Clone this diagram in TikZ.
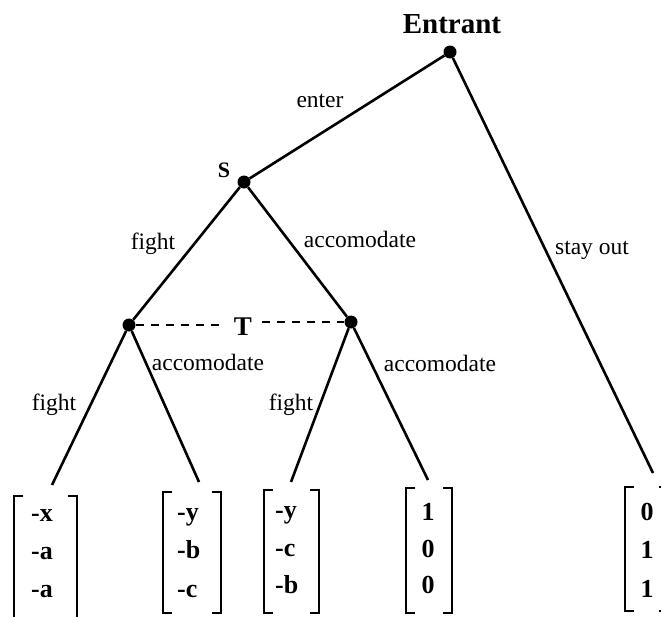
\documentclass[tikz,border=0pt]{standalone}
\usepackage{fontspec}
\setmainfont{Liberation Serif}
\begin{document}
\begin{tikzpicture}[x=1pt,y=-1pt,
  dot/.style={circle,fill=black,inner sep=0pt,minimum size=13pt},
  edge/.style={line width=2.6pt},
  dashline/.style={line width=2.2pt,dash pattern=on 8pt off 7pt},
  brk/.style={line width=2.2pt},
  lab/.style={font=\fontsize{23.5}{26}\selectfont,inner sep=0pt,anchor=base},
  blab/.style={font=\fontsize{22}{24}\selectfont\bfseries,inner sep=0pt,anchor=base},
  val/.style={font=\fontsize{26}{30}\selectfont\bfseries,inner sep=0pt,anchor=base west},
  valc/.style={font=\fontsize{26}{30}\selectfont\bfseries,inner sep=0pt,anchor=base}]
\useasboundingbox (0,0) rectangle (661,616);
% decision nodes
\node[dot] (E) at (450,52) {};
\node[dot] (S) at (244,182) {};
\node[dot] (TL) at (129,325) {};
\node[dot] (TR) at (351,322) {};
% leaf ends
\coordinate (L1) at (52,485);
\coordinate (L2) at (199,482);
\coordinate (L3) at (291,482);
\coordinate (L4) at (428,480);
\coordinate (L5) at (653,473);
% edges
\draw[edge] (E) -- (S);
\draw[edge] (E) -- (L5);
\draw[edge] (S) -- (TL);
\draw[edge] (S) -- (TR);
\draw[edge] (TL) -- (L1);
\draw[edge] (TL) -- (L2);
\draw[edge] (TR) -- (L3);
\draw[edge] (TR) -- (L4);
% information set
\node[blab,font=\fontsize{27}{30}\selectfont\bfseries,inner xsep=10pt] (Tlab) at (243,335) {T};
\draw[dashline] (TL) -- (Tlab.west |- TL);
\draw[dashline] (Tlab.east |- TR) -- (TR);
% player labels
\node[blab,font=\fontsize{29}{32}\selectfont\bfseries] (Elab) at (452,33) {Entrant};
\node[blab] (Slab) at (224,177) {S};
% action labels
\node[lab] (enter) at (320,107) {enter};
\node[lab] (stay) at (592,254) {stay out};
\node[lab] (f1) at (153,249) {fight};
\node[lab] (a1) at (360,247) {accomodate};
\node[lab] (a2) at (208,370) {accomodate};
\node[lab] (a3) at (440,371) {accomodate};
\node[lab] (f2) at (54,410) {fight};
\node[lab] (f3) at (291,410) {fight};
% payoff vectors
\node[val] (v11) at (31,521) {-x};
\node[val] (v12) at (31,559) {-a};
\node[val] (v13) at (31,597) {-a};
\node[val] (v21) at (177,520) {-y};
\node[val] (v22) at (177,558) {-b};
\node[val] (v23) at (177,597) {-c};
\node[val] (v31) at (275,518) {-y};
\node[val] (v32) at (275,556) {-c};
\node[val] (v33) at (275,593) {-b};
\node[valc] (v41) at (428,520) {1};
\node[valc] (v42) at (428,557) {0};
\node[valc] (v43) at (428,593) {0};
\node[valc] (v51) at (647,520) {0};
\node[valc] (v52) at (647,558) {1};
\node[valc] (v53) at (647,597) {1};
% brackets
\draw[brk] (23,496) -- (14,496) -- (14,625) -- (23,625);
\draw[brk] (68,496) -- (77,496) -- (77,625) -- (68,625);
\draw[brk] (172,492) -- (163,492) -- (163,613) -- (172,613);
\draw[brk] (212,492) -- (221,492) -- (221,613) -- (212,613);
\draw[brk] (273,490) -- (264,490) -- (264,613) -- (273,613);
\draw[brk] (310,490) -- (319,490) -- (319,613) -- (310,613);
\draw[brk] (415,488) -- (406,488) -- (406,613) -- (415,613);
\draw[brk] (443,488) -- (452,488) -- (452,613) -- (443,613);
\draw[brk] (634,487) -- (625,487) -- (625,611) -- (634,611);
\draw[brk] (659,487) -- (668,487) -- (668,611) -- (659,611);
\end{tikzpicture}
\end{document}
